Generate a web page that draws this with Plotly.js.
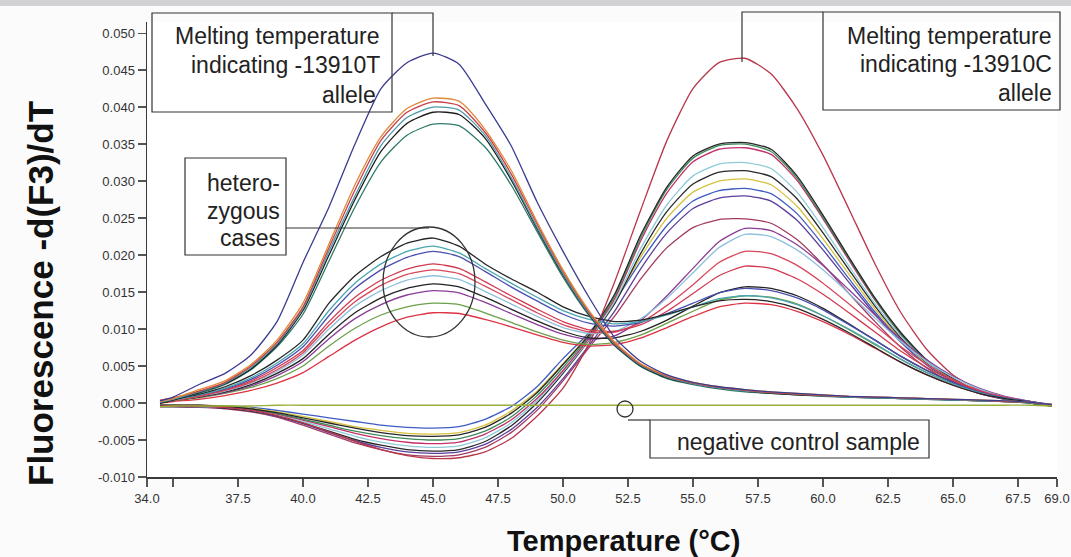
<!DOCTYPE html>
<html>
<head>
<meta charset="utf-8">
<script src="https://cdn.plot.ly/plotly-3.0.1.min.js"></script>
<style>
html,body{margin:0;padding:0;background:#fbfbfb;}
#chart{width:1071px;height:557px;}
</style>
</head>
<body>
<div id="chart"></div>
<script>
// ---------- data ----------
const temperature = [34.5, 35, 36, 37, 38, 39, 40, 41, 42, 43, 44, 45, 46, 47, 48, 49, 50, 51, 52, 53, 54, 55, 56, 57, 58, 59, 60, 61, 62, 63, 64, 65, 66, 67, 68, 68.8];

// homozygous -13910T curves (peak near 45 °C)
const homT1 = [0.0003, 0.0008, 0.0025, 0.004, 0.0065, 0.011, 0.019, 0.0265, 0.035, 0.0425, 0.046, 0.0473, 0.0458, 0.0405, 0.0348, 0.0272, 0.0205, 0.0143, 0.0088, 0.0056, 0.0038, 0.0028, 0.0022, 0.0018, 0.0015, 0.0013, 0.0011, 0.0009, 0.0008, 0.0007, 0.0006, 0.0005, 0.0004, 0.0003, 0.0001, -0.0002];
const homT2 = [0.0002, 0.0006, 0.0018, 0.003, 0.0052, 0.0085, 0.0135, 0.0215, 0.0295, 0.036, 0.0398, 0.0412, 0.0408, 0.037, 0.0315, 0.0245, 0.018, 0.0125, 0.0082, 0.0053, 0.0037, 0.0028, 0.0022, 0.0018, 0.0015, 0.0013, 0.0011, 0.0009, 0.0008, 0.0007, 0.0006, 0.0005, 0.0004, 0.0003, 0.0001, -0.0002];
const homT3 = [0.0004, 0.0007, 0.0016, 0.0028, 0.005, 0.0082, 0.013, 0.021, 0.0288, 0.0355, 0.0393, 0.0407, 0.0402, 0.0366, 0.031, 0.0242, 0.0178, 0.0123, 0.008, 0.0052, 0.0036, 0.0027, 0.0021, 0.0017, 0.0014, 0.0012, 0.001, 0.0009, 0.0008, 0.0007, 0.0006, 0.0005, 0.0004, 0.0002, 0.0001, -0.0003];
const homT4 = [0.0001, 0.0005, 0.0015, 0.0027, 0.0048, 0.008, 0.0128, 0.0205, 0.028, 0.0348, 0.0386, 0.04, 0.0396, 0.0362, 0.0305, 0.0238, 0.0175, 0.0121, 0.0079, 0.0051, 0.0035, 0.0026, 0.002, 0.0016, 0.0014, 0.0012, 0.001, 0.0008, 0.0007, 0.0006, 0.0005, 0.0004, 0.0003, 0.0002, 0.0, -0.0003];
const homT5 = [0.0, 0.0004, 0.0014, 0.0026, 0.0046, 0.0078, 0.0125, 0.02, 0.0275, 0.034, 0.0378, 0.0393, 0.039, 0.0358, 0.0302, 0.0236, 0.0173, 0.012, 0.0078, 0.005, 0.0034, 0.0026, 0.002, 0.0016, 0.0013, 0.0011, 0.001, 0.0008, 0.0007, 0.0006, 0.0005, 0.0004, 0.0003, 0.0002, 0.0, -0.0004];
const homT6 = [0.0002, 0.0005, 0.0013, 0.0025, 0.0045, 0.0076, 0.012, 0.0192, 0.0265, 0.0326, 0.0362, 0.0377, 0.0375, 0.0346, 0.0295, 0.0232, 0.017, 0.0118, 0.0077, 0.0049, 0.0033, 0.0025, 0.0019, 0.0015, 0.0013, 0.0011, 0.0009, 0.0008, 0.0007, 0.0006, 0.0005, 0.0004, 0.0003, 0.0002, 0.0, -0.0004];

// heterozygous curves (two peaks)
const het1 = [0.0002, 0.0005, 0.0012, 0.0022, 0.0037, 0.0058, 0.0085, 0.0135, 0.0172, 0.0198, 0.0216, 0.0223, 0.0212, 0.0188, 0.0168, 0.015, 0.013, 0.0117, 0.011, 0.0112, 0.012, 0.013, 0.0138, 0.014, 0.0137, 0.0128, 0.0113, 0.0095, 0.0075, 0.0055, 0.0038, 0.0024, 0.0013, 0.0006, 0.0001, -0.0003];
const het2 = [0.0001, 0.0004, 0.0011, 0.002, 0.0034, 0.0054, 0.008, 0.0125, 0.0162, 0.0188, 0.0205, 0.0212, 0.0203, 0.0182, 0.0162, 0.0143, 0.0125, 0.0113, 0.0107, 0.011, 0.0119, 0.013, 0.0141, 0.0145, 0.0142, 0.0133, 0.0118, 0.01, 0.008, 0.0059, 0.0041, 0.0026, 0.0014, 0.0006, 0.0001, -0.0003];
const het3 = [0.0003, 0.0005, 0.0011, 0.0019, 0.0032, 0.0051, 0.0076, 0.0118, 0.0155, 0.018, 0.0197, 0.0205, 0.0198, 0.0178, 0.0157, 0.0138, 0.012, 0.0108, 0.0104, 0.0109, 0.0121, 0.0135, 0.0149, 0.0155, 0.0152, 0.0142, 0.0126, 0.0106, 0.0085, 0.0063, 0.0044, 0.0028, 0.0015, 0.0007, 0.0002, -0.0002];
const het4 = [0.0002, 0.0004, 0.001, 0.0018, 0.003, 0.0048, 0.0071, 0.011, 0.0143, 0.0166, 0.0181, 0.0188, 0.0182, 0.0164, 0.0145, 0.0127, 0.011, 0.0099, 0.0097, 0.0106, 0.0124, 0.0148, 0.0172, 0.0185, 0.0182, 0.0168, 0.0147, 0.0122, 0.0096, 0.007, 0.0048, 0.003, 0.0016, 0.0007, 0.0002, -0.0003];
const het5 = [0.0001, 0.0003, 0.0009, 0.0017, 0.0028, 0.0045, 0.0068, 0.0105, 0.0137, 0.0159, 0.0174, 0.018, 0.0175, 0.0158, 0.014, 0.0122, 0.0106, 0.0096, 0.0096, 0.0109, 0.0132, 0.016, 0.019, 0.0205, 0.0202, 0.0186, 0.0162, 0.0134, 0.0105, 0.0076, 0.0052, 0.0032, 0.0017, 0.0008, 0.0002, -0.0003];
const het6 = [0.0002, 0.0004, 0.0009, 0.0016, 0.0027, 0.0043, 0.0065, 0.01, 0.0131, 0.0152, 0.0166, 0.0172, 0.0167, 0.0151, 0.0134, 0.0117, 0.0102, 0.0094, 0.0097, 0.0114, 0.0142, 0.0176, 0.021, 0.0228, 0.0225, 0.0207, 0.018, 0.0148, 0.0115, 0.0083, 0.0056, 0.0035, 0.0019, 0.0008, 0.0002, -0.0003];
const het7 = [0.0, 0.0003, 0.0008, 0.0015, 0.0025, 0.004, 0.006, 0.0093, 0.0122, 0.0142, 0.0155, 0.0161, 0.0157, 0.0143, 0.0127, 0.0111, 0.0097, 0.0088, 0.0088, 0.0097, 0.0112, 0.0131, 0.0149, 0.0157, 0.0155, 0.0145, 0.0128, 0.0107, 0.0085, 0.0063, 0.0044, 0.0028, 0.0015, 0.0007, 0.0001, -0.0004];
const het8 = [0.0002, 0.0004, 0.0008, 0.0014, 0.0023, 0.0037, 0.0056, 0.0087, 0.0114, 0.0133, 0.0146, 0.0152, 0.0149, 0.0136, 0.0121, 0.0106, 0.0093, 0.0086, 0.0091, 0.0112, 0.0145, 0.0182, 0.0218, 0.0236, 0.0233, 0.0214, 0.0186, 0.0153, 0.0119, 0.0086, 0.0058, 0.0036, 0.002, 0.0009, 0.0002, -0.0003];
const het9 = [0.0001, 0.0003, 0.0007, 0.0013, 0.0021, 0.0033, 0.005, 0.0077, 0.0101, 0.0119, 0.013, 0.0135, 0.0133, 0.0122, 0.0109, 0.0096, 0.0085, 0.0079, 0.0082, 0.0092, 0.0108, 0.0124, 0.0139, 0.0145, 0.0143, 0.0134, 0.0118, 0.0099, 0.0079, 0.0059, 0.0041, 0.0026, 0.0014, 0.0006, 0.0001, -0.0003];
const het10 = [0.0, 0.0002, 0.0005, 0.001, 0.0017, 0.0027, 0.0041, 0.0063, 0.0085, 0.0103, 0.0116, 0.0122, 0.0121, 0.0113, 0.0103, 0.0092, 0.0082, 0.0077, 0.0079, 0.0088, 0.0102, 0.0117, 0.013, 0.0135, 0.0133, 0.0124, 0.011, 0.0093, 0.0074, 0.0055, 0.0038, 0.0024, 0.0013, 0.0006, 0.0001, -0.0004];

// homozygous -13910C curves (dip near 45 °C, peak near 57 °C)
const homC1 = [-0.0004, -0.0004, -0.0004, -0.0006, -0.001, -0.0017, -0.0027, -0.0039, -0.0052, -0.0063, -0.0071, -0.0075, -0.0074, -0.0066, -0.0048, -0.0018, 0.002, 0.008, 0.0165, 0.0262, 0.0355, 0.0425, 0.046, 0.0466, 0.0445, 0.0398, 0.0335, 0.0262, 0.0188, 0.0122, 0.0072, 0.0038, 0.0018, 0.0007, 0.0001, -0.0004];
const homC2 = [-0.0003, -0.0003, -0.0003, -0.0005, -0.0008, -0.0013, -0.002, -0.0027, -0.0034, -0.004, -0.0044, -0.0045, -0.0043, -0.0033, -0.0014, 0.0014, 0.0052, 0.0092, 0.0148, 0.0228, 0.0292, 0.0334, 0.035, 0.0352, 0.0343, 0.0307, 0.0254, 0.0197, 0.0142, 0.0095, 0.0058, 0.0033, 0.0016, 0.0006, 0.0, -0.0004];
const homC3 = [-0.0004, -0.0004, -0.0004, -0.0005, -0.0008, -0.0014, -0.0022, -0.003, -0.0038, -0.0044, -0.0048, -0.005, -0.0048, -0.0038, -0.0019, 0.001, 0.0048, 0.009, 0.0145, 0.0224, 0.0289, 0.0331, 0.0348, 0.035, 0.034, 0.0304, 0.0251, 0.0195, 0.014, 0.0093, 0.0057, 0.0032, 0.0016, 0.0006, 0.0, -0.0004];
const homC4 = [-0.0004, -0.0004, -0.0004, -0.0006, -0.0009, -0.0015, -0.0023, -0.0032, -0.0041, -0.0048, -0.0053, -0.0055, -0.0053, -0.0042, -0.0023, 0.0006, 0.0044, 0.0088, 0.0142, 0.022, 0.0284, 0.0326, 0.0343, 0.0345, 0.0336, 0.0301, 0.0249, 0.0193, 0.0139, 0.0093, 0.0057, 0.0032, 0.0016, 0.0006, 0.0, -0.0004];
const homC5 = [-0.0004, -0.0004, -0.0005, -0.0006, -0.001, -0.0016, -0.0025, -0.0035, -0.0045, -0.0053, -0.0058, -0.006, -0.0058, -0.0047, -0.0027, 0.0003, 0.0042, 0.0086, 0.0138, 0.021, 0.0268, 0.0307, 0.0323, 0.0325, 0.0317, 0.0285, 0.0237, 0.0185, 0.0134, 0.009, 0.0055, 0.0031, 0.0015, 0.0006, 0.0, -0.0004];
const homC6 = [-0.0005, -0.0005, -0.0005, -0.0007, -0.0011, -0.0017, -0.0027, -0.0038, -0.0049, -0.0057, -0.0063, -0.0065, -0.0063, -0.0052, -0.0031, 0.0, 0.004, 0.0085, 0.0135, 0.0203, 0.0259, 0.0296, 0.0312, 0.0314, 0.0306, 0.0276, 0.023, 0.018, 0.0131, 0.0088, 0.0054, 0.003, 0.0015, 0.0006, 0.0, -0.0004];
const homC7 = [-0.0003, -0.0003, -0.0003, -0.0004, -0.0007, -0.0012, -0.0018, -0.0025, -0.0032, -0.0037, -0.0041, -0.0042, -0.004, -0.003, -0.0011, 0.0016, 0.0053, 0.0093, 0.0138, 0.0198, 0.025, 0.0285, 0.03, 0.0303, 0.0295, 0.0266, 0.0222, 0.0174, 0.0127, 0.0086, 0.0053, 0.003, 0.0015, 0.0006, 0.0, -0.0004];
const homC8 = [-0.0003, -0.0003, -0.0003, -0.0004, -0.0006, -0.001, -0.0015, -0.002, -0.0025, -0.003, -0.0033, -0.0034, -0.0032, -0.0022, -0.0005, 0.0022, 0.006, 0.0095, 0.0138, 0.0192, 0.024, 0.0273, 0.0287, 0.029, 0.0283, 0.0256, 0.0214, 0.0168, 0.0123, 0.0084, 0.0052, 0.0029, 0.0014, 0.0005, 0.0, -0.0004];
const homC9 = [-0.0005, -0.0005, -0.0005, -0.0007, -0.0011, -0.0018, -0.0028, -0.004, -0.0051, -0.006, -0.0066, -0.0068, -0.0066, -0.0056, -0.0036, -0.0006, 0.0033, 0.0078, 0.0125, 0.0182, 0.023, 0.0263, 0.0277, 0.028, 0.0273, 0.0247, 0.0207, 0.0163, 0.012, 0.0082, 0.0051, 0.0029, 0.0014, 0.0005, 0.0, -0.0004];
const homC10 = [-0.0005, -0.0005, -0.0006, -0.0008, -0.0012, -0.0019, -0.003, -0.0042, -0.0054, -0.0063, -0.007, -0.0072, -0.007, -0.006, -0.004, -0.001, 0.003, 0.0075, 0.0118, 0.0168, 0.021, 0.0237, 0.0248, 0.0249, 0.0243, 0.0221, 0.0187, 0.0148, 0.011, 0.0075, 0.0047, 0.0027, 0.0013, 0.0005, 0.0, -0.0004];

// negative control
const negControl = [-0.0005, -0.0004, -0.0004, -0.0004, -0.0004, -0.0003, -0.0003, -0.0003, -0.0003, -0.0003, -0.0003, -0.0003, -0.0003, -0.0003, -0.0003, -0.0003, -0.0003, -0.0003, -0.0003, -0.0003, -0.0003, -0.0003, -0.0003, -0.0003, -0.0003, -0.0003, -0.0003, -0.0003, -0.0003, -0.0003, -0.0003, -0.0003, -0.0003, -0.0003, -0.0003, -0.0004];

// axis ticks
const xTickVals = [34, 35, 37.5, 40, 42.5, 45, 47.5, 50, 52.5, 55, 57.5, 60, 62.5, 65, 67.5, 69];
const xTickText = ['34.0', '', '37.5', '40.0', '42.5', '45.0', '47.5', '50.0', '52.5', '55.0', '57.5', '60.0', '62.5', '65.0', '67.5', '69.0'];
const yTickVals = [0.05, 0.045, 0.04, 0.035, 0.03, 0.025, 0.02, 0.015, 0.01, 0.005, 0, -0.005, -0.01];
const yTickText = ['0.050', '0.045', '0.040', '0.035', '0.030', '0.025', '0.020', '0.015', '0.010', '0.005', '0.000', '-0.005', '-0.010'];

// ---------- traces ----------
const series = [
  [homC10, '#a23a62'], [homC9, '#5b3f9c'], [homC8, '#3f5cc2'], [homC7, '#d6c03c'],
  [homC6, '#2a2a2a'], [homC5, '#8ecad8'], [homC4, '#c2306c'], [homC3, '#3f8a5a'],
  [homC2, '#262626'], [homC1, '#b8364a'],
  [het10, '#dd3344'], [het9, '#6aa04a'], [het8, '#8a3d96'], [het7, '#222222'],
  [het6, '#8ec0dc'], [het5, '#d9475a'], [het4, '#d03a50'], [het3, '#4b4fb0'],
  [het2, '#4aa6b0'], [het1, '#262626'],
  [homT6, '#2f7a6a'], [homT5, '#1e1e1e'], [homT4, '#4a9aa8'], [homT3, '#c8404a'],
  [homT2, '#e0893a'], [homT1, '#3b3b8f'],
  [negControl, '#9aae3a']
];
const traces = series.map(([y, c]) => ({
  type: 'scatter', mode: 'lines', x: temperature, y: y,
  line: {color: c, width: 1.3, shape: 'spline', smoothing: 0.6},
  hoverinfo: 'skip', showlegend: false
}));

// ---------- layout helpers (pixel -> paper) ----------
const L = 147, R = 1057, T = 22, B = 477;
const X = px => (px - L) / (R - L);
const Y = py => (B - py) / (B - T);
const lineStyle = {color: '#333', width: 1.2};

const shapes = [
  {type: 'rect', xref: 'paper', yref: 'paper', x0: X(0), x1: X(1071), y0: Y(0), y1: Y(6), fillcolor: '#d2d2d4', line: {width: 0}, layer: 'below'},
  {type: 'rect', xref: 'paper', yref: 'paper', x0: X(152), x1: X(392), y0: Y(13), y1: Y(112), line: lineStyle},
  {type: 'path', xref: 'paper', yref: 'paper', path: `M ${X(392)} ${Y(13)} L ${X(433)} ${Y(13)} L ${X(433)} ${Y(56)}`, line: lineStyle},
  {type: 'rect', xref: 'paper', yref: 'paper', x0: X(823), x1: X(1060), y0: Y(12), y1: Y(110), line: lineStyle},
  {type: 'path', xref: 'paper', yref: 'paper', path: `M ${X(823)} ${Y(12)} L ${X(742)} ${Y(12)} L ${X(742)} ${Y(62)}`, line: lineStyle},
  {type: 'rect', xref: 'paper', yref: 'paper', x0: X(185), x1: X(286), y0: Y(158), y1: Y(255), line: lineStyle},
  {type: 'path', xref: 'paper', yref: 'paper', path: `M ${X(286)} ${Y(228)} L ${X(429)} ${Y(228)}`, line: {color: '#333', width: 1}},
  {type: 'circle', xref: 'paper', yref: 'paper', x0: X(383), x1: X(475), y0: Y(227), y1: Y(337), line: {color: '#333', width: 1.3}},
  {type: 'circle', xref: 'paper', yref: 'paper', x0: X(617), x1: X(633), y0: Y(401), y1: Y(417), line: {color: '#333', width: 1.3}},
  {type: 'path', xref: 'paper', yref: 'paper', path: `M ${X(628)} ${Y(420)} L ${X(650)} ${Y(420)}`, line: lineStyle},
  {type: 'rect', xref: 'paper', yref: 'paper', x0: X(650), x1: X(929), y0: Y(420), y1: Y(458), line: lineStyle}
];

const FONT = 'Liberation Sans, Arial, sans-serif';
const boxFont = {family: FONT, size: 23, color: '#222'};
function label(text, xr, yc, font) {
  return {xref: 'paper', yref: 'paper', x: X(xr), y: Y(yc), xanchor: 'right', yanchor: 'middle',
          text: text, showarrow: false, font: font || boxFont};
}
const annotations = [
  label('Melting temperature', 382, 36), label('indicating -13910T', 382, 65), label('allele', 378, 95),
  label('Melting temperature', 1054, 36), label('indicating -13910C', 1054, 64), label('allele', 1054, 93),
  label('hetero-', 282, 183), label('zygous', 282, 211), label('cases', 282, 238),
  label('negative control sample', 922, 442, {family: FONT, size: 23, color: '#222'}),
  {xref: 'paper', yref: 'paper', x: X(40), y: Y(294), xanchor: 'center', yanchor: 'middle', textangle: -90,
   text: '<b>Fluorescence -d(F3)/dT</b>', showarrow: false,
   font: {family: FONT, size: 35, color: '#111'}},
  {xref: 'paper', yref: 'paper', x: X(623), y: Y(541), xanchor: 'center', yanchor: 'middle',
   text: '<b>Temperature (°C)</b>', showarrow: false,
   font: {family: FONT, size: 29, color: '#111'}}
];

const layout = {
  width: 1071, height: 557,
  margin: {l: L, r: 1071 - R, t: T, b: 557 - B, pad: 0},
  paper_bgcolor: '#fbfbfb', plot_bgcolor: '#ffffff',
  showlegend: false,
  xaxis: {
    range: [34, 69], showgrid: false, zeroline: false,
    showline: true, linecolor: '#3a3a3a', linewidth: 2,
    ticks: 'outside', ticklen: 8, tickcolor: '#555', tickwidth: 1.2,
    tickvals: xTickVals, ticktext: xTickText,
    tickfont: {family: FONT, size: 13, color: '#333'}
  },
  yaxis: {
    range: [-0.010, 0.0515], showgrid: false, zeroline: false,
    showline: true, linecolor: '#3a3a3a', linewidth: 1.5,
    ticks: 'outside', ticklen: 8, tickcolor: '#555', tickwidth: 1.2,
    tickvals: yTickVals, ticktext: yTickText,
    tickfont: {family: FONT, size: 13, color: '#333'}
  },
  shapes: shapes,
  annotations: annotations
};

Plotly.newPlot('chart', traces, layout, {staticPlot: true, displayModeBar: false});
</script>
</body>
</html>
